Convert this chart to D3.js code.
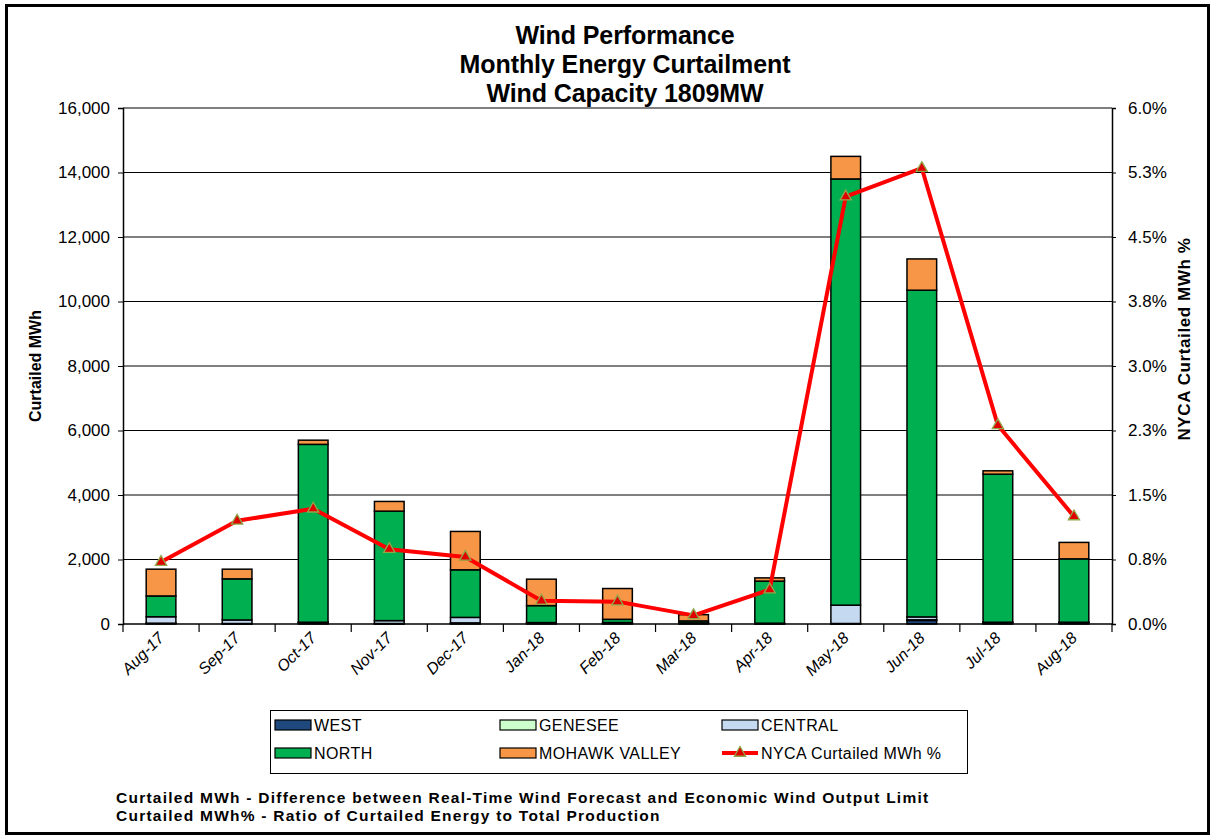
<!DOCTYPE html>
<html><head><meta charset="utf-8">
<script src="https://cdn.jsdelivr.net/npm/d3@7"></script>
<style>body{margin:0;background:#fff}svg{display:block;font-family:"Liberation Sans",Arial,sans-serif}</style>
</head><body>
<svg id="c" width="1215" height="837"></svg>
<script>
const categories = ["Aug-17","Sep-17","Oct-17","Nov-17","Dec-17","Jan-18","Feb-18","Mar-18","Apr-18","May-18","Jun-18","Jul-18","Aug-18"];
const west    = [20, 10, 40, 10, 30, 30, 30, 20, 10, 10, 110, 40, 40];
const genesee = [5, 5, 5, 5, 5, 5, 5, 5, 5, 5, 20, 5, 5];
const central = [200, 110, 10, 90, 170, 10, 10, 10, 10, 570, 90, 10, 10];
const north   = [645, 1275, 5515, 3395, 1475, 525, 100, 60, 1305, 13215, 10130, 4590, 1965];
const mohawk  = [830, 300, 130, 300, 1190, 820, 955, 195, 100, 700, 970, 105, 510];
const nycaPct = [0.72, 1.20, 1.34, 0.87, 0.78, 0.27, 0.26, 0.10, 0.40, 4.97, 5.30, 2.31, 1.25];
const leftTicks = [0, 2000, 4000, 6000, 8000, 10000, 12000, 14000, 16000];
const rightTicks = [0, 0.75, 1.5, 2.25, 3, 3.75, 4.5, 5.25, 6];
const rightTickLabels = ["0.0%","0.8%","1.5%","2.3%","3.0%","3.8%","4.5%","5.3%","6.0%"];
const seriesNames = ["WEST","GENESEE","CENTRAL","NORTH","MOHAWK VALLEY"];
const seriesColors = ["#1F497D","#CCFFCC","#C5D9F1","#00B050","#F79646"];
const titleLines = ["Wind Performance","Monthly Energy Curtailment","Wind Capacity 1809MW"];
const footLines = ["Curtailed MWh - Difference between Real-Time Wind Forecast and Economic Wind Output Limit","Curtailed MWh% - Ratio of Curtailed Energy to Total Production"];

const svg = d3.select("#c");
const L = 123, R = 1112, T = 108, B = 624;

svg.append("rect").attr("x",6.5).attr("y",5.5).attr("width",1202).attr("height",828)
  .attr("fill","#fff").attr("stroke","#000").attr("stroke-width",3);

const x = d3.scaleBand().domain(categories).range([L,R]).paddingInner(0.61).paddingOuter(0.305);
const xb = d3.scaleBand().domain(categories).range([L,R]);
const y = d3.scaleLinear().domain([0,16000]).range([B,T]);
const y2 = d3.scaleLinear().domain([0,6]).range([B,T]);

// gridlines
svg.append("g").selectAll("line").data(leftTicks.slice(1)).join("line")
  .attr("x1",L).attr("x2",R).attr("y1",d=>y(d)).attr("y2",d=>y(d))
  .attr("stroke","#000").attr("stroke-width",1);

// stacked bars
const rows = categories.map((c,i)=>({cat:c, WEST:west[i], GENESEE:genesee[i], CENTRAL:central[i], NORTH:north[i], "MOHAWK VALLEY":mohawk[i]}));
const stack = d3.stack().keys(seriesNames)(rows);
svg.append("g").selectAll("g").data(stack).join("g")
  .attr("fill",(d,i)=>seriesColors[i])
  .selectAll("rect").data(d=>d).join("rect")
  .attr("x",d=>x(d.data.cat)).attr("width",x.bandwidth())
  .attr("y",d=>y(d[1])).attr("height",d=>y(d[0])-y(d[1]))
  .attr("stroke","#000").attr("stroke-width",1.5);

// left axis
const gl = svg.append("g").attr("transform",`translate(${L},0)`)
  .call(d3.axisLeft(y).tickValues(leftTicks).tickFormat(d3.format(",")).tickSize(5).tickPadding(8));
gl.select(".domain").attr("stroke","#000").attr("stroke-width",1.5);
gl.selectAll("text").attr("font-size",17).attr("fill","#000").attr("font-family","Liberation Sans, Arial");

// right axis
const gr = svg.append("g").attr("transform",`translate(${R},0)`)
  .call(d3.axisRight(y2).tickValues(rightTicks).tickFormat((d,i)=>rightTickLabels[i]).tickSize(4).tickPadding(12));
gr.select(".domain").attr("stroke","#000").attr("stroke-width",1.5);
gr.selectAll("text").attr("font-size",17).attr("fill","#000").attr("font-family","Liberation Sans, Arial");

// bottom axis
svg.append("line").attr("x1",L).attr("x2",R).attr("y1",B).attr("y2",B).attr("stroke","#000").attr("stroke-width",1.5);
svg.append("g").selectAll("line").data(categories.concat(["_end"])).join("line")
  .attr("x1",(d,i)=> i<categories.length ? xb(d) : R).attr("x2",(d,i)=> i<categories.length ? xb(d) : R)
  .attr("y1",B).attr("y2",B+8).attr("stroke","#000").attr("stroke-width",1.2);
svg.append("g").selectAll("text").data(categories).join("text")
  .attr("transform",d=>`translate(${xb(d)+xb.bandwidth()/2+4},${B+15}) rotate(-45)`)
  .attr("text-anchor","end").attr("font-size",16).attr("font-style","italic").text(d=>d);

// line series
const line = d3.line().x((d,i)=>xb(categories[i])+xb.bandwidth()/2).y(d=>y2(d));
svg.append("path").datum(nycaPct).attr("d",line).attr("fill","none")
  .attr("stroke","#FF0000").attr("stroke-width",4).attr("stroke-linejoin","round");
const tri = d3.symbol().type(d3.symbolTriangle).size(55);
svg.append("g").selectAll("path").data(nycaPct).join("path")
  .attr("transform",(d,i)=>`translate(${xb(categories[i])+xb.bandwidth()/2},${y2(d)})`)
  .attr("d",tri).attr("fill","#E00000").attr("stroke","#8FA84A").attr("stroke-width",1.3);

// titles
svg.append("g").selectAll("text").data(titleLines).join("text")
  .attr("x",625).attr("y",(d,i)=>44+i*29).attr("text-anchor","middle")
  .attr("font-size",25).attr("font-weight","bold").attr("letter-spacing",-0.1).text(d=>d);

svg.append("text").attr("transform","translate(41,366) rotate(-90)").attr("text-anchor","middle")
  .attr("font-size",16).attr("font-weight","bold").text("Curtailed MWh");
svg.append("text").attr("transform","translate(1190,339) rotate(-90)").attr("text-anchor","middle")
  .attr("font-size",17).attr("font-weight","bold").attr("letter-spacing",0.6).text("NYCA Curtailed MWh %");

// legend
const lg = svg.append("g");
lg.append("rect").attr("x",270.5).attr("y",710.5).attr("width",697).attr("height",63).attr("fill","#fff").attr("stroke","#000").attr("stroke-width",1);
const legItems = seriesNames.map((n,i)=>({name:n,color:seriesColors[i],type:"bar"})).concat([{name:"NYCA Curtailed MWh %",type:"line"}]);
const colX = [275, 500, 722];
legItems.forEach((it,i)=>{
  const cx = colX[i%3], cy = i<3 ? 725 : 753;
  if(it.type==="bar"){
    lg.append("rect").attr("x",cx).attr("y",cy-5).attr("width",36).attr("height",10).attr("fill",it.color).attr("stroke","#000").attr("stroke-width",1.2);
  } else {
    lg.append("line").attr("x1",cx).attr("x2",cx+36).attr("y1",cy).attr("y2",cy).attr("stroke","#FF0000").attr("stroke-width",4);
    lg.append("path").attr("transform",`translate(${cx+18},${cy})`).attr("d",tri).attr("fill","#E00000").attr("stroke","#8FA84A").attr("stroke-width",1.3);
  }
  lg.append("text").attr("x",cx+39).attr("y",cy+6).attr("font-size",16).attr("letter-spacing",0.4).text(it.name);
});

// footer
svg.append("g").selectAll("text").data(footLines).join("text")
  .attr("x",116).attr("y",(d,i)=>803+i*18).attr("font-size",15.5).attr("font-weight","bold").attr("letter-spacing",1.25).text(d=>d);
</script>
</body></html>
